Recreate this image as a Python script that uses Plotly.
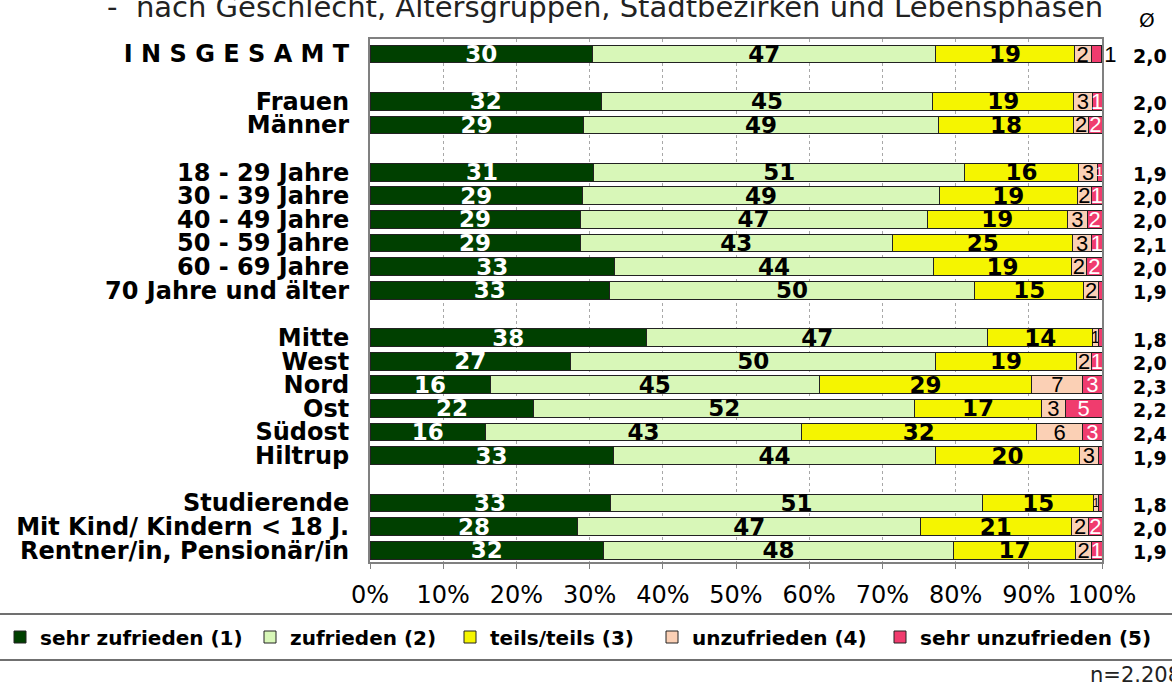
import plotly.graph_objects as go

# ---------------- data ----------------
categories = [
    "I N S G E S A M T", " ",
    "Frauen", "Männer", "  ",
    "18 - 29 Jahre", "30 - 39 Jahre", "40 - 49 Jahre", "50 - 59 Jahre",
    "60 - 69 Jahre", "70 Jahre und älter", "   ",
    "Mitte", "West", "Nord", "Ost", "Südost", "Hiltrup", "    ",
    "Studierende", "Mit Kind/ Kindern < 18 J.", "Rentner/in, Pensionär/in",
]

series_names = ["sehr zufrieden (1)", "zufrieden (2)", "teils/teils (3)",
                "unzufrieden (4)", "sehr unzufrieden (5)"]

sehr_zufrieden = [30.4, None, 31.6, 29.1, None, 30.6, 29.0, 28.7, 28.7, 33.4, 32.7, None,
                  37.8, 27.4, 16.4, 22.4, 15.8, 33.2, None, 32.8, 28.4, 31.9]
zufrieden = [46.9, None, 45.3, 48.6, None, 50.6, 48.8, 47.4, 42.7, 43.6, 49.9, None,
             46.6, 49.9, 45.0, 52.0, 43.1, 44.1, None, 50.9, 46.8, 47.8]
teils_teils = [18.9, None, 19.2, 18.4, None, 15.6, 18.8, 19.2, 24.6, 18.8, 14.9, None,
               14.3, 19.2, 29.0, 17.3, 32.1, 19.6, None, 15.2, 20.6, 16.7]
unzufrieden = [2.3, None, 2.6, 2.1, None, 2.6, 2.0, 2.7, 2.6, 2.1, 2.0, None,
               0.8, 2.1, 7.0, 3.3, 6.4, 2.6, None, 0.6, 2.4, 2.2]
sehr_unzufrieden = [1.4, None, 1.3, 1.8, None, 0.6, 1.4, 2.0, 1.4, 2.1, 0.5, None,
                    0.5, 1.4, 2.6, 5.0, 2.6, 0.5, None, 0.5, 1.8, 1.4]

mittelwert = [2.0, None, 2.0, 2.0, None, 1.9, 2.0, 2.0, 2.1, 2.0, 1.9, None,
              1.8, 2.0, 2.3, 2.2, 2.4, 1.9, None, 1.8, 2.0, 1.9]

x_ticks = [0, 10, 20, 30, 40, 50, 60, 70, 80, 90, 100]
x_ticklabels = [f"{t}%" for t in x_ticks]

title_text = "-\u00a0\u00a0nach Geschlecht, Altersgruppen, Stadtbezirken und Lebensphasen"
n_text = "n=2.208"

# ---------------- style ----------------
W, H = 1172, 682
colors = ["#004000", "#d8f7b8", "#f5f500", "#fbd0b5", "#f03c6e"]
PX_PER_PCT = 7.32
BOLD = "DejaVu Sans"
NARROW = "Liberation Sans Narrow, Arial Narrow, Liberation Sans"
legend_left_px = [-3, 250, 450, 652, 880]


def labels_for(vals):
    out = []
    for v in vals:
        if v is None or round(v) < 1:
            out.append("")
        else:
            out.append(str(round(v)))
    return out


fig = go.Figure()

all_series = [sehr_zufrieden, zufrieden, teils_teils, unzufrieden, sehr_unzufrieden]
legend_ids = ["legend", "legend2", "legend3", "legend4", "legend5"]
for k, (name, vals, col) in enumerate(zip(series_names, all_series, colors)):
    txt = labels_for(vals)
    if k < 3:
        tf = dict(family=BOLD, size=23, weight="bold",
                  color="white" if k == 0 else "black")
        positions = "inside"
    else:
        sizes = []
        for v, t in zip(vals, txt):
            if v is None or not t:
                sizes.append(22)
            else:
                sizes.append(min(22, 1.25 * v * PX_PER_PCT / (0.46 * len(t))))
        tf = dict(family=NARROW, size=sizes, color="black" if k == 3 else "white")
        positions = "inside"
        if k == 4:
            positions = ["outside" if c == categories[0] else "inside" for c in categories]
    fig.add_trace(go.Bar(
        y=categories, x=vals, name=name, orientation="h",
        marker=dict(color=col, line=dict(color="#222222", width=1)),
        text=txt, textposition=positions, insidetextanchor="middle",
        textangle=0, constraintext="none", textfont=tf,
        outsidetextfont=dict(family=NARROW, size=22, color="black"),
        cliponaxis=False, hoverinfo="skip", legend=legend_ids[k],
    ))

# mean column
annotations = []
for c, m in zip(categories, mittelwert):
    if m is None:
        continue
    annotations.append(dict(
        x=1.0656, xref="paper", y=c, yref="y", yshift=-2,
        text=f"{m:.1f}".replace(".", ","), showarrow=False,
        xanchor="center", yanchor="middle",
        font=dict(family=BOLD, size=19, weight="bold", color="black"),
    ))
annotations.append(dict(x=1.0615, xref="paper", y=1.037, yref="paper", text="Ø",
                        showarrow=False, xanchor="center", yanchor="middle",
                        font=dict(family="DejaVu Sans", size=20, color="black")))
annotations.append(dict(x=0.321, xref="paper", y=1.062, yref="paper", text=title_text,
                        showarrow=False, xanchor="center", yanchor="middle",
                        font=dict(family="DejaVu Sans", size=29, color="#222222")))
annotations.append(dict(x=0.981, xref="paper", y=-0.216, yref="paper", text=n_text,
                        showarrow=False, xanchor="left", yanchor="middle",
                        font=dict(family="DejaVu Sans", size=21, color="#222222")))

shapes = [
    dict(type="line", xref="paper", yref="paper", x0=-0.52, x1=1.12, y0=-0.0995, y1=-0.0995,
         line=dict(color="#404040", width=1.5)),
    dict(type="line", xref="paper", yref="paper", x0=-0.52, x1=1.12, y0=-0.1875, y1=-0.1875,
         line=dict(color="#404040", width=1.5)),
]

legend_common = dict(orientation="h", xref="container", yref="container",
                     y=1 - 637 / H, xanchor="left", yanchor="middle",
                     font=dict(family=BOLD, size=20, weight="bold", color="black"),
                     bgcolor="rgba(0,0,0,0)", borderwidth=0,
                     itemclick=False, itemdoubleclick=False)
legend_layout = {}
for lid, lx in zip(legend_ids, legend_left_px):
    legend_layout[lid] = dict(legend_common, x=lx / W)

fig.update_layout(
    width=W, height=H,
    margin=dict(l=370, r=70, t=39, b=120, pad=0, autoexpand=False),
    paper_bgcolor="white", plot_bgcolor="white",
    barmode="stack", bargap=0.25,
    showlegend=True,
    annotations=annotations,
    shapes=shapes,
    **legend_layout,
)

fig.update_xaxes(
    range=[0, 100], tickvals=x_ticks, ticktext=x_ticklabels,
    showgrid=True, gridcolor="#a8a8a8", griddash="dot", gridwidth=1,
    showline=True, linecolor="#808080", linewidth=2, mirror=True,
    ticks="outside", ticklen=5, tickcolor="#808080", ticklabelstandoff=5,
    tickfont=dict(family="DejaVu Sans", size=24, color="black"),
    zeroline=False, fixedrange=True,
)
fig.update_yaxes(
    type="category", categoryorder="array", categoryarray=categories,
    tickmode="linear", tick0=0, dtick=1,
    autorange="reversed", showgrid=False,
    showline=True, linecolor="#808080", linewidth=2, mirror=True,
    ticks="", ticklabelstandoff=14,
    tickfont=dict(family=BOLD, size=24, weight="bold", color="black"),
    fixedrange=True,
)

fig.write_html("out.html", config={"displayModeBar": False},
               post_script="document.body.style.margin='0';")
